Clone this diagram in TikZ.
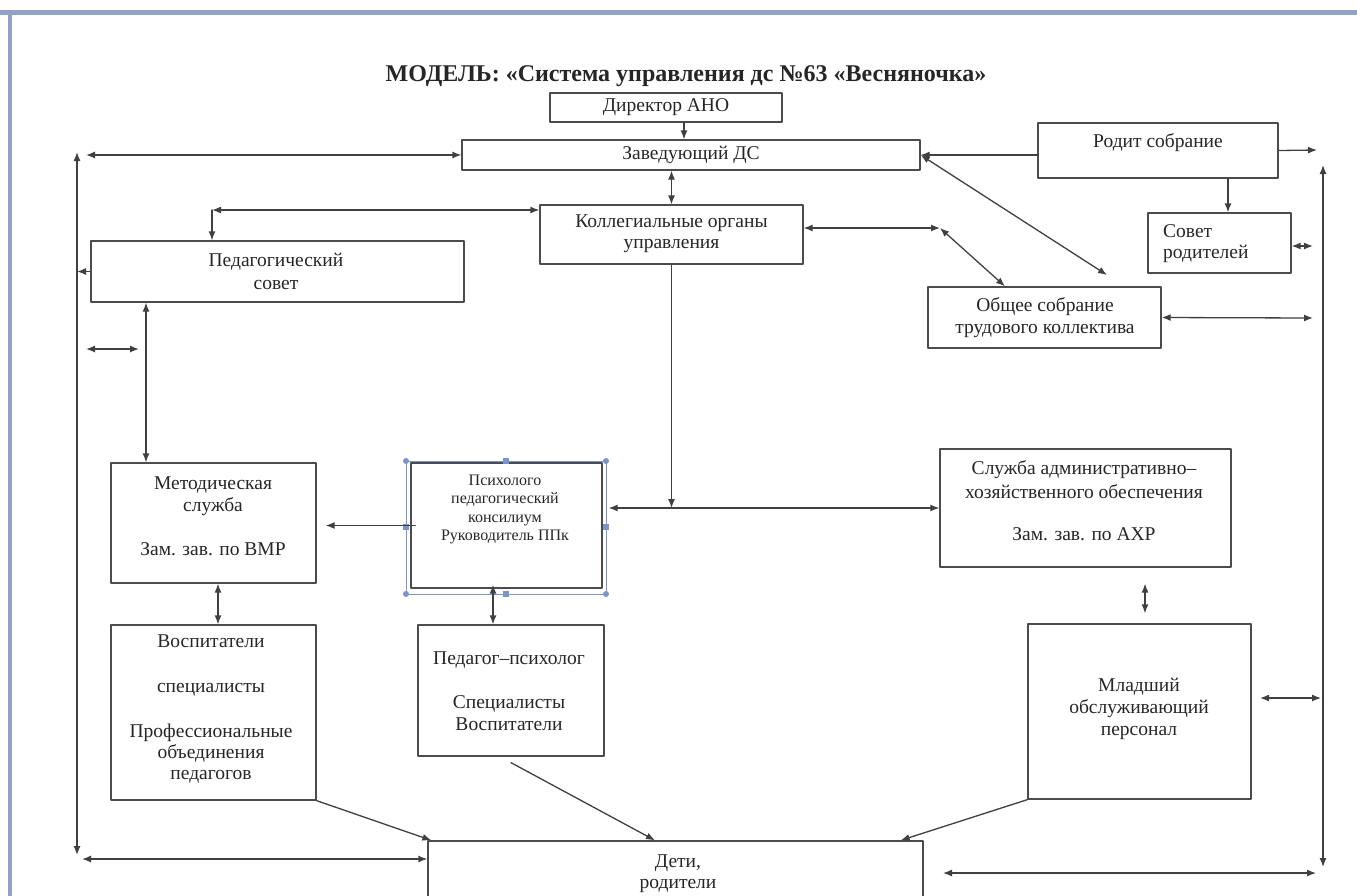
\documentclass[tikz,border=0pt]{standalone}
\usepackage{fontspec}
\setmainfont{Liberation Serif}
\usetikzlibrary{arrows.meta}

\definecolor{frame}{HTML}{93A1C4}
\definecolor{handle}{HTML}{7A95C8}

\begin{document}
\begin{tikzpicture}[x=1pt, y=-1pt, line cap=round, line join=round,
  box/.style={draw=black!70, line width=1.3pt, inner sep=0pt},
  txt/.style={font=\fontsize{19.5}{21.5}\selectfont, align=center, text=black!85, inner sep=0pt},
  link/.style={draw=black!75, line width=1.3pt, -{Latex[length=9pt,width=7pt]}},
  both/.style={link, {Latex[length=9pt,width=7pt]}-{Latex[length=9pt,width=7pt]}}]

% --- Page and frame ---
\useasboundingbox (0,0) rectangle (1357,895);
\fill[white] (0,0) rectangle (1357,895);
\draw[line width=5pt, draw=frame] (0,12) -- (1357,12);
\draw[line width=4pt, draw=frame] (10,12) -- (10,895);

% --- Coordinates ---
\coordinate (L1) at (77,152);
\coordinate (L2) at (77,855);
\coordinate (R1) at (1323,165);
\coordinate (R2) at (1323,867);
\coordinate (zl) at (86,155);
\coordinate (kl) at (212,210);
\coordinate (kr) at (940,228);
\coordinate (zd) at (1107,275);
\coordinate (rr) at (1317,150);
\coordinate (sx) at (1228,200);
\coordinate (sr) at (1313,246);
\coordinate (orr) at (1313,318);
\coordinate (s1) at (86,349);
\coordinate (s2) at (139,349);
\coordinate (pmx) at (146,400);
\coordinate (kd) at (671.5,508);
\coordinate (amx) at (1145,600);
\coordinate (ml1) at (1260,698);
\coordinate (ml2) at (1321,698);
\coordinate (lb) at (82,859);
\coordinate (rb1) at (943,873);
\coordinate (rb2) at (1316,873);

% --- Boxes ---
\node[box, minimum width=232pt, minimum height=29pt] (dir) at (666,107.5) {};
\node[box, minimum width=458pt, minimum height=30pt] (zav) at (691,155) {};
\node[box, minimum width=240pt, minimum height=55pt] (rod) at (1158,150.5) {};
\node[box, minimum width=143pt, minimum height=60pt] (sov) at (1219.5,243) {};
\node[box, minimum width=263pt, minimum height=59pt] (kol) at (671.5,234.5) {};
\node[box, minimum width=373pt, minimum height=61pt] (ped) at (277.5,271.5) {};
\node[box, minimum width=233pt, minimum height=61pt] (obs) at (1044.5,317.5) {};
\node[box, minimum width=205pt, minimum height=120pt] (met) at (213.5,523) {};
\node[box, minimum width=191pt, minimum height=125pt] (ppk) at (506.5,525.5) {};
\node[box, minimum width=291pt, minimum height=118pt] (axo) at (1085.5,508) {};
\node[box, minimum width=205pt, minimum height=175pt] (vos) at (213.5,712.5) {};
\node[box, minimum width=186pt, minimum height=131pt] (pp) at (511,690.5) {};
\node[box, minimum width=223pt, minimum height=175pt] (mlad) at (1139.5,711.5) {};
\node[box, minimum width=495pt, minimum height=69pt] (det) at (675.5,875.5) {};

% selection frame round the consilium box
\draw[handle, line width=0.8pt] (406,461) rectangle (606,594);
\foreach \p in {(406,461),(606,461),(406,594),(606,594)}
  \fill[handle] \p circle (3pt);
\foreach \p in {(506,461),(406,527),(606,527),(506,594)}
  \fill[handle] \p ++(-3,-3) rectangle ++(6,6);

% --- Connectors ---
\draw[link] ([xshift=18pt]dir.south) -- ([xshift=-7pt]zav.north);
\draw[both] (zav.south -| kol.north) -- (kol.north);
\draw[both] (zl) -- (zav.west);
\draw[both] (L1) -- (L2);
\draw[both] (R1) -- (R2);
\draw[link] (ped.west) -- (ped.west -| L1);
\draw[both] (s1) -- (s2);
\draw[both] (ped.south -| pmx) -- (met.north -| pmx);
\draw[both] (kl) -- (kol.west |- kl);
\draw[link] (kl) -- (kl |- ped.north);
\draw[both] (kol.east |- kr) -- (kr);
\draw[both] (kr) -- ([xshift=-39.5pt]obs.north);
\draw[both] (zav.east) -- (zd);
\draw[link] (rod.west |- zav.east) -- (zav.east);
\draw[link] (rod.east) -- (rr);
\draw[link] (rod.south -| sx) -- (sov.north -| sx);
\draw[both] (sov.east |- sr) -- (sr);
\draw[both] (obs.east) -- (orr);
\draw[link] (kol.south) -- (kd);
\draw[both, shorten <=6pt] (ppk.east |- axo.west) -- (axo.west);
\draw[link, shorten <=-5pt, shorten >=9pt] (ppk.west) -- (ppk.west -| met.east);
\draw[both] ([xshift=4.5pt]met.south) -- ([xshift=4.5pt]vos.north);
\draw[both] ([xshift=-13.5pt, yshift=4pt]ppk.south) -- ([xshift=-18pt]pp.north);
\draw[both, shorten <=16pt, shorten >=10pt] (axo.south -| amx) -- (mlad.north -| amx);
\draw[both] (ml1) -- (ml2);
\draw[link] (vos.south east) -- ([xshift=4pt]det.north west);
\draw[link] ([yshift=-6pt]pp.south) -- ([xshift=-20.5pt]det.north);
\draw[link] (mlad.south west) -- ([xshift=-23pt]det.north east);
\draw[both] (lb) -- (lb -| det.west);
\draw[both] (rb1) -- (rb2);

% --- Labels ---
\node[font=\bfseries\fontsize{24}{27}\selectfont, text=black!85] (title) at (686,76) {МОДЕЛЬ: «Система управления дс №63 «Весняночка»};
\node[txt] (dir-t) at (666,107) {Директор АНО};
\node[txt] (zav-t) at (691,155) {Заведующий ДС};
\node[txt] (rod-t) at (1158,143) {Родит собрание};
\node[txt, align=left, anchor=west] (sov-t) at (1163,243.5) {Совет\\родителей};
\node[txt] (kol-t) at (671.5,233.5) {Коллегиальные органы\\управления};
\node[txt, font=\fontsize{19.5}{23}\selectfont] (ped-t) at (276,271.5) {Педагогический\\совет};
\node[txt] (obs-t) at (1045,317.5) {Общее собрание\\трудового коллектива};
\node[txt, font=\fontsize{19.5}{22.5}\selectfont] (met-t) at (213,516) {Методическая\\служба\\[21pt]Зам. зав. по ВМР};
\node[txt, font=\fontsize{16}{18.3}\selectfont] (ppk-t) at (505,509.5) {Психолого\\педагогический\\консилиум\\Руководитель ППк};
\node[txt, font=\fontsize{19.5}{23.5}\selectfont] (axo-t) at (1084,501) {Служба административно–\\хозяйственного обеспечения\\[19pt]Зам. зав. по АХР};
\node[txt, font=\fontsize{19.5}{21}\selectfont] (vos-t) at (211,708.5) {Воспитатели\\[24pt]специалисты\\[24pt]Профессиональные\\объединения\\педагогов};
\node[txt] (pp-t) at (509,691) {Педагог–психолог\\[23pt]Специалисты\\Воспитатели};
\node[txt, font=\fontsize{19.5}{22}\selectfont] (mlad-t) at (1139,709) {Младший\\обслуживающий\\персонал};
\node[txt] (det-t) at (678,873.5) {Дети,\\родители};

\end{tikzpicture}
\end{document}
